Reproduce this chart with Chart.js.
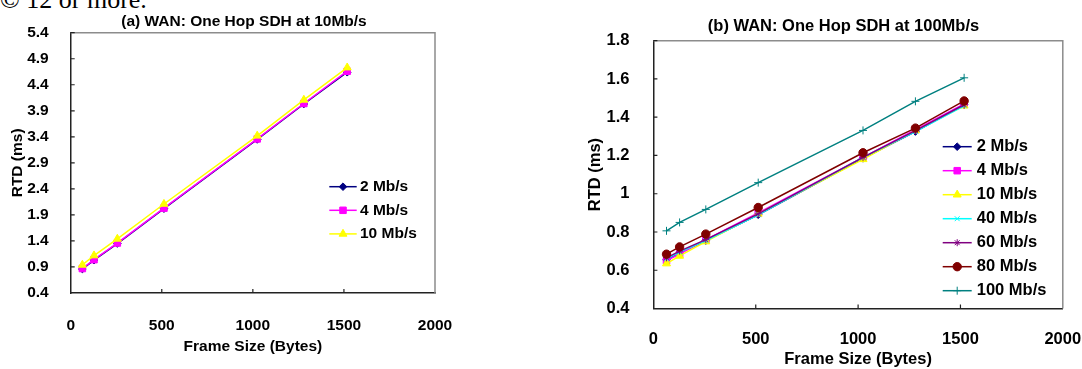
<!DOCTYPE html>
<html><head><meta charset="utf-8">
<script src="https://cdn.jsdelivr.net/npm/chart.js@4.4.1/dist/chart.umd.min.js"></script>
<style>
html,body{margin:0;padding:0;background:#fff;width:1082px;height:369px;overflow:hidden;position:relative}
canvas{position:absolute;top:0}
#cA{left:0}
#cB{left:560px}
#frag{position:absolute;left:0;top:-13px;font:26px 'Liberation Serif','Times New Roman',serif;line-height:26px;white-space:nowrap;color:#000}
</style></head><body>
<div id="frag">© 12 or more.</div>
<canvas id="cA" width="488" height="369"></canvas>
<canvas id="cB" width="567" height="369"></canvas>
<script>
// ---- data ----
const frameSizes = [64, 128, 256, 512, 1024, 1280, 1518];
const xTicks = [0, 500, 1000, 1500, 2000];
const yTicksA = [0.4, 0.9, 1.4, 1.9, 2.4, 2.9, 3.4, 3.9, 4.4, 4.9, 5.4];
const yTickLabelsA = ['0.4','0.9','1.4','1.9','2.4','2.9','3.4','3.9','4.4','4.9','5.4'];
const yTicksB = [0.4, 0.6, 0.8, 1.0, 1.2, 1.4, 1.6, 1.8];
const yTickLabelsB = ['0.4','0.6','0.8','1','1.2','1.4','1.6','1.8'];

const seriesLabelsA = ['2 Mb/s', '4 Mb/s', '10 Mb/s'];
const rtdA_2  = [0.86, 1.03, 1.35, 2.02, 3.35, 4.03, 4.64];
const rtdA_4  = [0.87, 1.04, 1.36, 2.03, 3.36, 4.04, 4.66];
const rtdA_10 = [0.94, 1.12, 1.44, 2.11, 3.42, 4.11, 4.73];

const seriesLabelsB = ['2 Mb/s', '4 Mb/s', '10 Mb/s', '40 Mb/s', '60 Mb/s', '80 Mb/s', '100 Mb/s'];
const rtdB_2   = [0.655, 0.690, 0.755, 0.890, 1.185, 1.325, 1.465];
const rtdB_4   = [0.650, 0.685, 0.760, 0.900, 1.190, 1.335, 1.470];
const rtdB_10  = [0.635, 0.675, 0.750, 0.895, 1.180, 1.330, 1.460];
const rtdB_40  = [0.660, 0.695, 0.755, 0.890, 1.190, 1.325, 1.460];
const rtdB_60  = [0.665, 0.700, 0.760, 0.895, 1.190, 1.330, 1.465];
const rtdB_80  = [0.684, 0.722, 0.789, 0.928, 1.214, 1.343, 1.485];
const rtdB_100 = [0.806, 0.850, 0.918, 1.058, 1.331, 1.483, 1.606];

const titleA = '(a) WAN: One Hop SDH at 10Mb/s';
const titleB = '(b) WAN: One Hop SDH at 100Mb/s';
const xTitle = 'Frame Size (Bytes)';
const yTitle = 'RTD (ms)';

// ---- styles ----
Chart.defaults.font.family = "'Liberation Sans', Arial, Helvetica, sans-serif";
Chart.defaults.color = '#000';

const pts = ys => frameSizes.map((x, i) => ({x: x, y: ys[i]}));
function mkSet(label, ys, color, style, radius, fill, order) {
  return {
    label: label, data: pts(ys), borderColor: color, backgroundColor: fill,
    pointBackgroundColor: fill, pointBorderColor: color, pointStyle: style,
    pointRadius: radius, pointHoverRadius: radius, pointBorderWidth: 1,
    borderWidth: 1.5, tension: 0, fill: false, order: order, yAxisID: 'y'
  };
}

const decor = {
  id: 'decor',
  afterDraw(chart, args, o) {
    const ctx = chart.ctx, ca = chart.chartArea;
    const xs = chart.scales.x, ysc = chart.scales.y;
    ctx.save();
    // top & right frame (gray)
    ctx.strokeStyle = '#8c8c8c';
    ctx.lineWidth = 1.5;
    ctx.beginPath();
    ctx.moveTo(ca.left, ca.top); ctx.lineTo(ca.right, ca.top); ctx.lineTo(ca.right, ca.bottom);
    ctx.stroke();
    // inward tick marks
    ctx.strokeStyle = '#222';
    ctx.lineWidth = 1.2;
    ctx.beginPath();
    xs.ticks.forEach(t => {
      const px = xs.getPixelForValue(t.value);
      if (px > ca.left + 2 && px < ca.right - 2) { ctx.moveTo(px, ca.bottom); ctx.lineTo(px, ca.bottom - 4); }
    });
    ysc.ticks.forEach(t => {
      const py = ysc.getPixelForValue(t.value);
      if (py > ca.top - 1 && py < ca.bottom - 2) { ctx.moveTo(ca.left, py); ctx.lineTo(ca.left + 4, py); }
    });
    ctx.stroke();
    // legend inside plot
    const L = o.legend;
    chart.data.datasets.forEach((ds, i) => {
      const y = L.y0 + i * L.dy;
      ctx.strokeStyle = ds.borderColor; ctx.lineWidth = ds.borderWidth;
      ctx.beginPath(); ctx.moveTo(L.x0, y); ctx.lineTo(L.x1, y); ctx.stroke();
      ctx.fillStyle = ds.pointBackgroundColor; ctx.strokeStyle = ds.pointBorderColor; ctx.lineWidth = 1;
      const cx = (L.x0 + L.x1) / 2;
      if (Chart.helpers && Chart.helpers.drawPoint) {
        Chart.helpers.drawPoint(ctx, {pointStyle: ds.pointStyle, radius: ds.pointRadius, rotation: 0, borderWidth: 1}, cx, y);
      } else {
        ctx.beginPath(); ctx.arc(cx, y, ds.pointRadius, 0, Math.PI * 2); ctx.fill(); ctx.stroke();
      }
      ctx.fillStyle = '#000';
      ctx.font = 'bold ' + L.size + "px 'Liberation Sans', Arial, sans-serif";
      ctx.textAlign = 'left'; ctx.textBaseline = 'middle';
      ctx.fillText(ds.label, L.tx, y);
    });
    ctx.restore();
  }
};

function makeOptions(cfg) {
  const f = {size: cfg.fs, weight: 'bold'};
  return {
    responsive: false, animation: false, devicePixelRatio: 1,
    layout: {padding: {left: 0, right: 0, top: 0, bottom: 0}},
    plugins: {
      legend: {display: false}, tooltip: {enabled: false},
      title: {display: true, text: cfg.title, color: '#000', font: {size: cfg.tfs, weight: 'bold'},
              padding: {top: cfg.tpt, bottom: cfg.tpb}},
      decor: {legend: cfg.legend}
    },
    scales: {
      x: {
        type: 'linear', min: 0, max: 2000,
        afterBuildTicks: s => { s.ticks = xTicks.map(v => ({value: v})); },
        afterFit: s => { s.height = cfg.xh; },
        grid: {display: false},
        border: {display: true, color: '#222', width: 1.5},
        ticks: {font: f, color: '#000', padding: cfg.xtp, maxRotation: 0, autoSkip: false,
                callback: (v, i) => String(xTicks[i])},
        title: {display: true, text: xTitle, color: '#000', font: f, padding: {top: 0, bottom: cfg.xtb}}
      },
      y: {
        type: 'linear', position: 'left', min: cfg.ymin, max: cfg.ymax,
        afterBuildTicks: s => { s.ticks = cfg.yt.map(v => ({value: v})); },
        afterFit: s => { s.width = cfg.yw; },
        grid: {display: false},
        border: {display: true, color: '#222', width: 1.5},
        ticks: {font: f, color: '#000', padding: cfg.ytp, autoSkip: false,
                callback: (v, i) => cfg.ytl[i]},
        title: {display: true, text: yTitle, color: '#000', font: f, padding: {top: cfg.ytt, bottom: 0}}
      },
      // empty spacer on the right so the chart title sits where it does in the source
      spacer: {
        type: 'linear', position: 'right', display: true,
        afterFit: s => { s.width = cfg.sw; },
        grid: {display: false}, border: {display: false}, ticks: {display: false}
      }
    }
  };
}

new Chart(document.getElementById('cA'), {
  type: 'line',
  data: {datasets: [
    mkSet(seriesLabelsA[0], rtdA_2,  '#000080', 'rectRot',  3.8, '#000080', 3),
    mkSet(seriesLabelsA[1], rtdA_4,  '#ff00ff', 'rect',     4.6, '#ff00ff', 2),
    mkSet(seriesLabelsA[2], rtdA_10, '#ffff00', 'triangle', 4.6, '#ffff00', 1)
  ]},
  options: makeOptions({
    fs: 15.5, tfs: 15.5, title: titleA, tpt: 12.2, tpb: 1.9,
    yw: 70.7, ytp: 14, ytt: 8, sw: 53, xh: 76, xtp: 15.4, xtb: 13,
    ymin: 0.4, ymax: 5.4, yt: yTicksA, ytl: yTickLabelsA,
    legend: {x0: 329.3, x1: 356.7, tx: 360, y0: 186.7, dy: 23.6, size: 15.5}
  }),
  plugins: [decor]
});

new Chart(document.getElementById('cB'), {
  type: 'line',
  data: {datasets: [
    mkSet(seriesLabelsB[0], rtdB_2,   '#000080', 'rectRot',  3.8, '#000080', 7),
    mkSet(seriesLabelsB[1], rtdB_4,   '#ff00ff', 'rect',     4.6, '#ff00ff', 6),
    mkSet(seriesLabelsB[2], rtdB_10,  '#ffff00', 'triangle', 4.6, '#ffff00', 5),
    mkSet(seriesLabelsB[3], rtdB_40,  '#00ffff', 'crossRot', 3.5, '#00ffff', 4),
    mkSet(seriesLabelsB[4], rtdB_60,  '#800080', 'star',     3.5, '#800080', 3),
    mkSet(seriesLabelsB[5], rtdB_80,  '#800000', 'circle',   4.2, '#800000', 2),
    mkSet(seriesLabelsB[6], rtdB_100, '#008080', 'cross',    4,   '#008080', 1)
  ]},
  options: makeOptions({
    fs: 16.5, tfs: 16.5, title: titleB, tpt: 16.6, tpb: 4.3,
    yw: 93.4, ytp: 16, ytt: 25.4, sw: 64.2, xh: 60.5, xtp: 13.3, xtb: 0,
    ymin: 0.4, ymax: 1.8, yt: yTicksB, ytl: yTickLabelsB,
    legend: {x0: 382.7, x1: 411.7, tx: 416.7, y0: 146.7, dy: 24, size: 16.5}
  }),
  plugins: [decor]
});
</script>
</body></html>
